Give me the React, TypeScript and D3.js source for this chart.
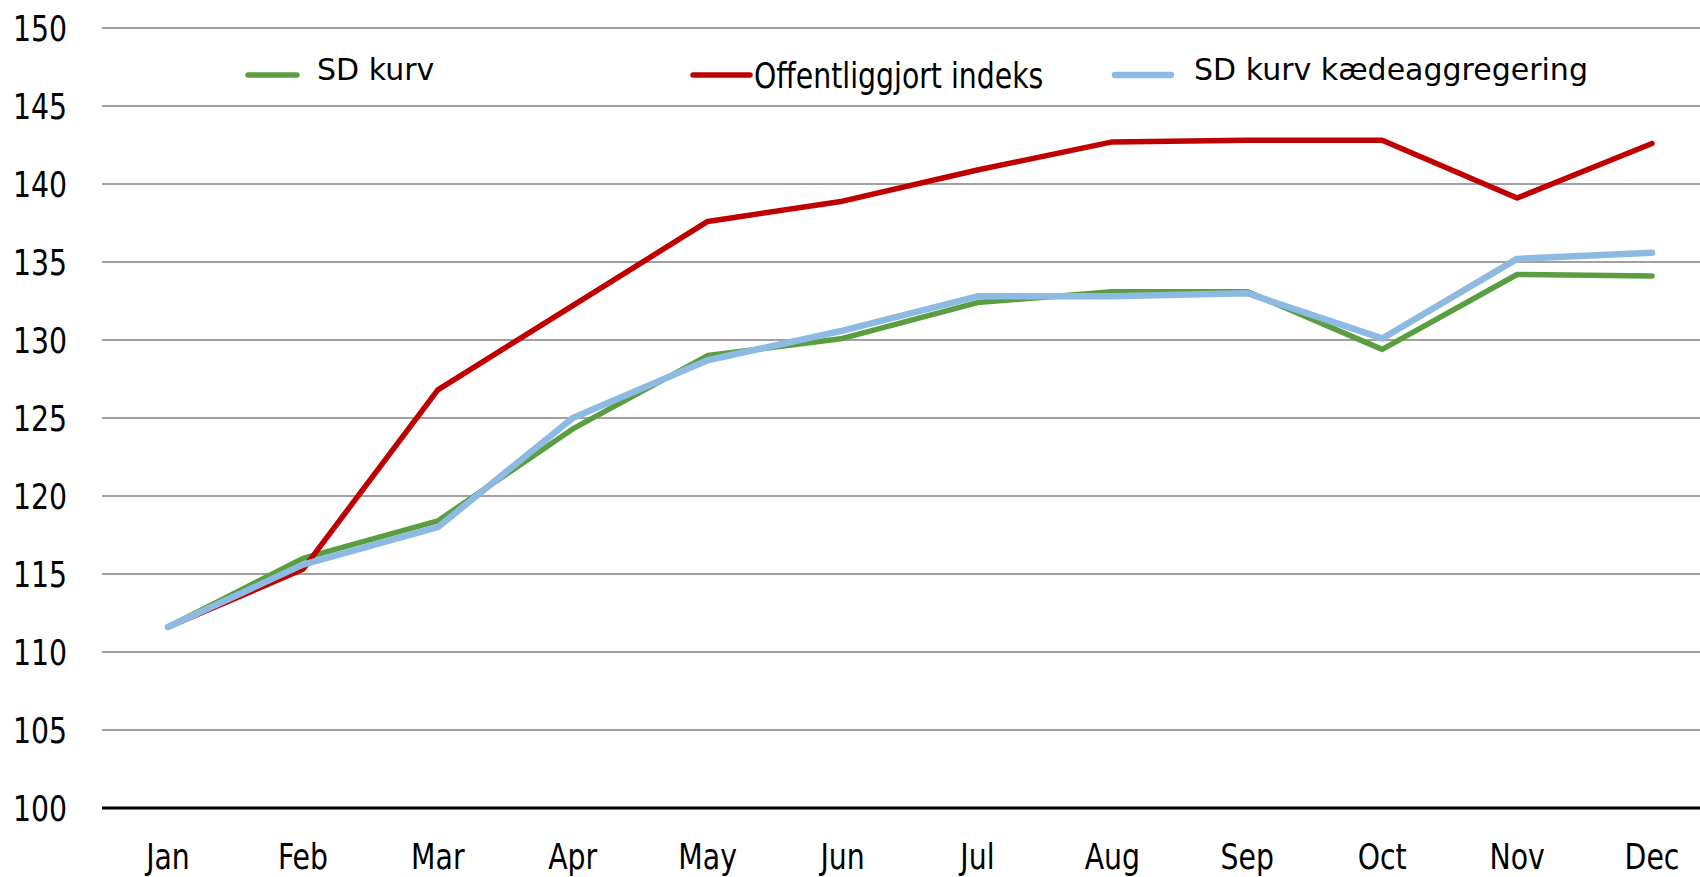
import * as d3 from "d3";

const months = ["Jan", "Feb", "Mar", "Apr", "May", "Jun", "Jul", "Aug", "Sep", "Oct", "Nov", "Dec"];
const sdKurv = [111.6, 116.0, 118.4, 124.3, 129.0, 130.1, 132.4, 133.1, 133.1, 129.4, 134.2, 134.1];
const offentliggjort = [111.6, 115.3, 126.8, 132.2, 137.6, 138.9, 140.9, 142.7, 142.8, 142.8, 139.1, 142.6];
const kaedeagg = [111.6, 115.6, 118.0, 125.0, 128.7, 130.6, 132.8, 132.8, 133.0, 130.1, 135.2, 135.6];
const yTicks = [100, 105, 110, 115, 120, 125, 130, 135, 140, 145, 150];

const W = 1700;
const H = 877;
const FONT = "'DejaVu Sans Condensed', 'DejaVu Sans', sans-serif";
const SX = 0.9; // horizontal squeeze to mimic the narrow face

const series = [
  { name: "SD kurv", values: sdKurv, color: "#5B9E42", width: 5.5 },
  { name: "Offentliggjort indeks", values: offentliggjort, color: "#C00000", width: 5.5 },
  { name: "SD kurv kædeaggregering", values: kaedeagg, color: "#8DBAE2", width: 6.5 },
];

// legend placement; two of the entries use a wider face in the original
const legendPos = [
  { x1: 248, x2: 297, tx: 317, wide: true },
  { x1: 693, x2: 750, tx: 754, wide: false },
  { x1: 1115, x2: 1171, tx: 1194, wide: true },
];

function Label({ x, y, anchor, dy, children }: { x: number; y: number; anchor: string; dy?: string; children: any }) {
  return (
    <text
      transform={`translate(${x},${y}) scale(${SX},1)`}
      dy={dy}
      textAnchor={anchor}
      fontFamily={FONT}
      fontSize={35}
      fill="#000"
    >
      {children}
    </text>
  );
}

export default function App() {
  const x = d3.scalePoint<string>().domain(months).range([168, 1652]);
  const y = d3.scaleLinear().domain([100, 150]).range([808, 28]);

  const line = d3
    .line<number>()
    .x((_, i) => x(months[i]) as number)
    .y((d) => y(d));

  return (
    <div style={{ position: "absolute", left: 0, top: 0 }}>
      <svg width={W} height={H} style={{ display: "block", background: "#fff" }}>
        {/* grid */}
        {yTicks.slice(1).map((t) => (
          <line key={t} x1={102} x2={W} y1={y(t)} y2={y(t)} stroke="#A0A0A0" strokeWidth={2} />
        ))}
        {/* y labels */}
        {yTicks.map((t) => (
          <Label key={"l" + t} x={67} y={y(t)} dy="0.36em" anchor="end">
            {t}
          </Label>
        ))}
        {/* x labels */}
        {months.map((m) => (
          <Label key={m} x={x(m) as number} y={869} anchor="middle">
            {m}
          </Label>
        ))}
        {/* lines */}
        {series.map((s) => (
          <path
            key={s.name}
            d={line(s.values) ?? ""}
            fill="none"
            stroke={s.color}
            strokeWidth={s.width}
            strokeLinejoin="round"
            strokeLinecap="round"
          />
        ))}
        {/* x axis */}
        <line x1={102} x2={W} y1={y(100)} y2={y(100)} stroke="#000" strokeWidth={3} />
        {/* legend */}
        {series.map((s, i) => (
          <g key={"lg" + s.name}>
            <line
              x1={legendPos[i].x1}
              x2={legendPos[i].x2}
              y1={75}
              y2={75}
              stroke={s.color}
              strokeWidth={s.width}
              strokeLinecap="round"
            />
            {legendPos[i].wide ? (
              <text x={legendPos[i].tx} y={80} fontFamily="'DejaVu Sans', sans-serif" fontSize={30} fill="#000">
                {s.name}
              </text>
            ) : (
              <Label x={legendPos[i].tx} y={75} dy="0.36em" anchor="start">
                {s.name}
              </Label>
            )}
          </g>
        ))}
      </svg>
    </div>
  );
}
